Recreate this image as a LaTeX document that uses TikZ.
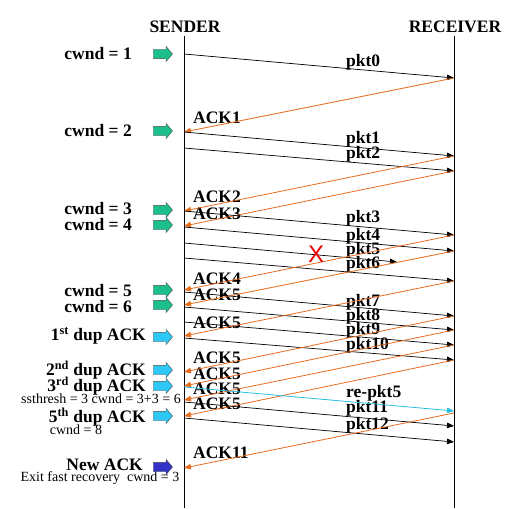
\documentclass[tikz,border=0pt]{standalone}
\usepackage{fontspec}
\setmainfont{Liberation Serif}
\newfontfamily\arialfont{Liberation Sans}
\usetikzlibrary{arrows.meta,shapes.arrows}
\definecolor{ackorange}{RGB}{230,108,30}
\definecolor{retxcyan}{RGB}{40,190,225}
\definecolor{bagreen}{RGB}{28,190,140}
\definecolor{bacyan}{RGB}{45,200,245}
\definecolor{bablue}{RGB}{50,50,200}
\definecolor{xred}{RGB}{235,0,0}
\tikzset{
  x=1pt,y=-1pt,
  big/.style={font=\fontsize{17.5}{18}\selectfont\bfseries, inner sep=0pt},
  small/.style={font=\fontsize{14}{15}\selectfont, inner sep=0pt},
  timeline/.style={draw=black, line width=0.9pt},
  pktline/.style={draw=black, line width=0.7pt, -{Triangle[length=7pt,width=5.5pt]}},
  ackline/.style={draw=ackorange, line width=0.8pt, -{Triangle[length=7pt,width=5.5pt]}},
  retxline/.style={draw=retxcyan, line width=0.8pt, -{Triangle[length=7pt,width=5.5pt]}},
  barrow/.style={single arrow, draw=black!70, line width=0.4pt, inner sep=4.5pt,
    single arrow head extend=3pt, single arrow tip angle=100,
    minimum height=19pt, anchor=center},
}
\begin{document}
\begin{tikzpicture}
\useasboundingbox (0,0) rectangle (516,508);
% time lines
\coordinate (st) at (184,36); \coordinate (sb) at (184,508);
\coordinate (rt) at (454,36); \coordinate (rb) at (454,508);
\draw[timeline] (st) -- (sb);
\draw[timeline] (rt) -- (rb);
\node[big] (sender) at (185,27) {SENDER};
\node[big] (receiver) at (455,27) {RECEIVER};

% left labels and block arrows
\node[big, anchor=east] (c1) at (132,54) {cwnd = 1};
\node[big, anchor=east] (c2) at (132,131) {cwnd = 2};
\node[big, anchor=east] (c3) at (132,209) {cwnd = 3};
\node[big, anchor=east] (c4) at (132,225) {cwnd = 4};
\node[big, anchor=east] (c5) at (132,291) {cwnd = 5};
\node[big, anchor=east] (c6) at (132,307) {cwnd = 6};
\node[big, anchor=east] (d1) at (146,336) {1\textsuperscript{st} dup ACK};
\node[big, anchor=east] (d2) at (146,370) {2\textsuperscript{nd} dup ACK};
\node[big, anchor=east] (d3) at (146,386) {3\textsuperscript{rd} dup ACK};
\node[small] (ss) at (101,399) {ssthresh = 3 cwnd = 3+3 = 6};
\node[big, anchor=east] (d5) at (146,417) {5\textsuperscript{th} dup ACK};
\node[small] (cw8) at (76,430) {cwnd = 8};
\node[big, anchor=east] (na) at (143,465) {New ACK};
\node[small] (exit) at (100,478) {Exit fast recovery\ \ cwnd = 3};

\node[barrow, fill=bagreen] (b1) at (161,54) {};
\node[barrow, fill=bagreen] (b2) at (161,131) {};
\node[barrow, fill=bagreen] (b3) at (161,210) {};
\node[barrow, fill=bagreen] (b4) at (161,225) {};
\node[barrow, fill=bagreen] (b5) at (161,290) {};
\node[barrow, fill=bagreen] (b6) at (161,305) {};
\node[barrow, fill=bacyan] (b7) at (161,337) {};
\node[barrow, fill=bacyan] (b8) at (161,370) {};
\node[barrow, fill=bacyan] (b9) at (161,386) {};
\node[barrow, fill=bacyan] (b10) at (161,416) {};
\node[barrow, fill=bablue] (b11) at (161,467) {};

% end points
\coordinate (s0) at (184,54);   \coordinate (r0) at (454,78);
\coordinate (sA1) at (184,132);
\coordinate (s1) at (184,132);  \coordinate (r1) at (454,156);
\coordinate (s2) at (184,148);  \coordinate (r2) at (454,171);
\coordinate (sA2) at (184,211); \coordinate (sA3) at (184,226);
\coordinate (s3) at (184,211);  \coordinate (r3) at (454,235);
\coordinate (s4) at (184,227);  \coordinate (r4) at (454,251);
\coordinate (s5) at (184,243);  \coordinate (lost5) at (397,262);
\coordinate (s6) at (184,258);  \coordinate (r6) at (454,281);
\coordinate (sA4) at (184,290); \coordinate (sA5a) at (184,305);
\coordinate (s7) at (184,292);  \coordinate (r7) at (454,316);
\coordinate (s8) at (184,307);  \coordinate (r8) at (454,330);
\coordinate (s9) at (184,322);  \coordinate (r9) at (454,345);
\coordinate (s10) at (184,338); \coordinate (r10) at (454,360);
\coordinate (sA5b) at (184,336);
\coordinate (sA5c) at (184,372);
\coordinate (sA5d) at (184,386);
\coordinate (sA5e) at (184,400);
\coordinate (sA5f) at (184,416);
\coordinate (sR5) at (184,387); \coordinate (rR5) at (454,411);
\coordinate (s11) at (184,402); \coordinate (r11) at (454,426);
\coordinate (s12) at (184,418); \coordinate (r12) at (454,442);
\coordinate (rA11) at (454,413); \coordinate (sA11) at (184,468);

% labels on connectors
\node[big, anchor=west] (lp0) at (346,62) {pkt0};
\node[big, anchor=west] (la1) at (193,118) {ACK1};
\node[big, anchor=west] (lp1) at (346,139) {pkt1};
\node[big, anchor=west] (lp2) at (346,154) {pkt2};
\node[big, anchor=west] (la2) at (193,197) {ACK2};
\node[big, anchor=west] (la3) at (193,214) {ACK3};
\node[big, anchor=west] (lp3) at (346,218) {pkt3};
\node[big, anchor=west] (lp4) at (346,236) {pkt4};
\node[big, anchor=west] (lp5) at (346,250) {pkt5};
\node[big, anchor=west] (lp6) at (346,264) {pkt6};
\node[big, anchor=west] (la4) at (193,279) {ACK4};
\node[big, anchor=west] (la5a) at (193,295) {ACK5};
\node[big, anchor=west] (lp7) at (346,302) {pkt7};
\node[big, anchor=west] (lp8) at (346,316) {pkt8};
\node[big, anchor=west] (lp9) at (346,330) {pkt9};
\node[big, anchor=west] (lp10) at (346,345) {pkt10};
\node[big, anchor=west] (la5b) at (193,323) {ACK5};
\node[big, anchor=west] (la5c) at (193,358) {ACK5};
\node[big, anchor=west] (la5d) at (193,374) {ACK5};
\node[big, anchor=west] (la5e) at (193,389) {ACK5};
\node[big, anchor=west] (la5f) at (193,404) {ACK5};
\node[big, anchor=west] (lr5) at (346,393) {re-pkt5};
\node[big, anchor=west] (lp11) at (346,408) {pkt11};
\node[big, anchor=west] (lp12) at (346,425) {pkt12};
\node[big, anchor=west] (la11) at (193,453) {ACK11};

% connectors
\draw[pktline] (s0) -- (r0);
\draw[ackline] (r0) -- (sA1);
\draw[pktline] (s1) -- (r1);
\draw[pktline] (s2) -- (r2);
\draw[ackline] (r1) -- (sA2);
\draw[ackline] (r2) -- (sA3);
\draw[pktline] (s3) -- (r3);
\draw[pktline] (s4) -- (r4);
\draw[pktline] (s5) -- (lost5);
\draw[pktline] (s6) -- (r6);
\draw[ackline] (r3) -- (sA4);
\draw[ackline] (r4) -- (sA5a);
\draw[pktline] (s7) -- (r7);
\draw[pktline] (s8) -- (r8);
\draw[pktline] (s9) -- (r9);
\draw[pktline] (s10) -- (r10);
\draw[ackline] (r6) -- (sA5b);
\draw[ackline] (r7) -- (sA5c);
\draw[ackline] (r8) -- (sA5d);
\draw[ackline] (r9) -- (sA5e);
\draw[ackline] (r10) -- (sA5f);
\draw[retxline] (sR5) -- (rR5);
\draw[pktline] (s11) -- (r11);
\draw[pktline] (s12) -- (r12);
\draw[ackline] (rA11) -- (sA11);

\node[text=xred, font=\arialfont\fontsize{24}{24}\selectfont, inner sep=0pt] (loss) at (316,254) {X};
\end{tikzpicture}
\end{document}
